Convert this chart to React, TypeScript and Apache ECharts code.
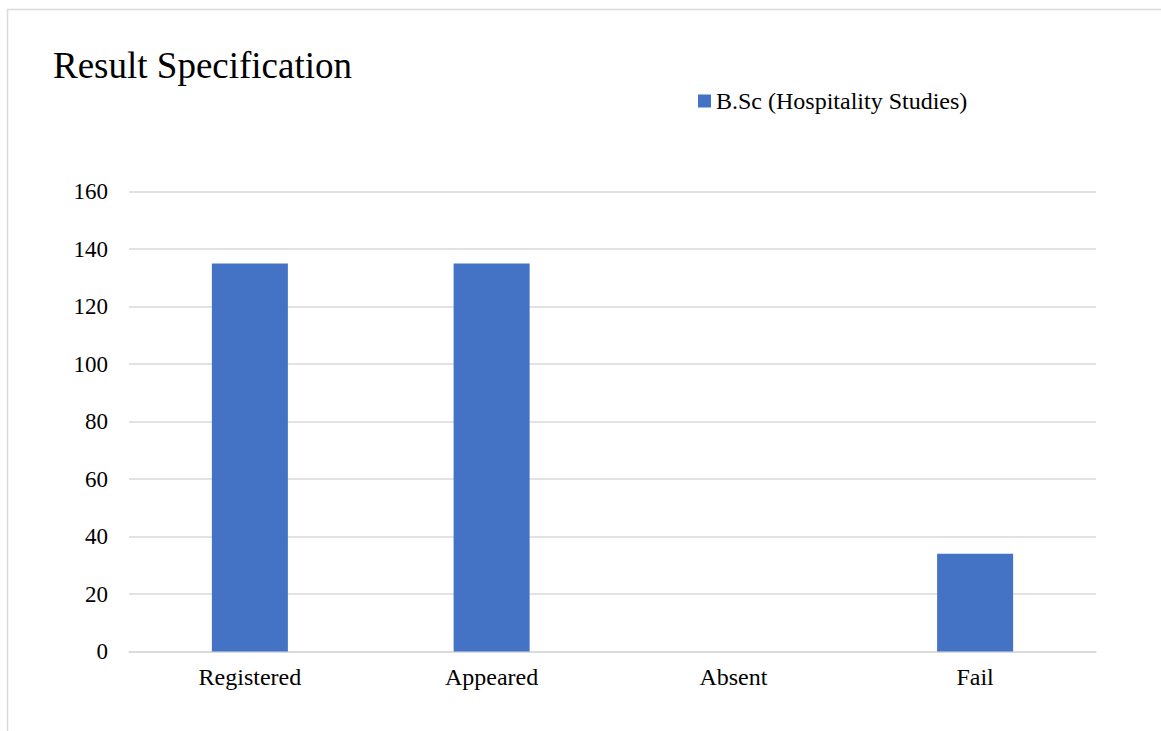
import React, { useEffect, useRef } from "react";
import * as echarts from "echarts";

const categories = ["Registered", "Appeared", "Absent", "Fail"];
const seriesName = "B.Sc (Hospitality Studies)";
const values = [135, 135, 0, 34];
const yTicks = { min: 0, max: 160, interval: 20 };

const FONT = "'Liberation Serif', 'Times New Roman', serif";

export default function App() {
  const ref = useRef<HTMLDivElement>(null);
  useEffect(() => {
    if (!ref.current) return;
    const chart = echarts.init(ref.current, undefined, { renderer: "svg" });
    chart.setOption({
      animation: false,
      backgroundColor: "#ffffff",
      title: {
        text: "Result Specification",
        left: 48,
        top: 42,
        textStyle: { fontFamily: FONT, fontSize: 37, fontWeight: "normal", color: "#000" },
      },
      legend: {
        left: 693,
        top: 84,
        itemWidth: 13,
        itemHeight: 13,
        icon: "rect",
        textStyle: { fontFamily: FONT, fontSize: 24, color: "#000" },
        data: [seriesName],
      },
      grid: {
        left: 129,
        right: 65,
        top: 191.5,
        bottom: 79.5,
        containLabel: false,
        outerBoundsMode: "none",
      },
      xAxis: {
        type: "category",
        data: categories,
        axisLine: { lineStyle: { color: "#d9d9d9", width: 1.5 } },
        axisTick: { show: false },
        axisLabel: { fontFamily: FONT, fontSize: 24, color: "#000", margin: 13 },
      },
      yAxis: {
        type: "value",
        min: yTicks.min,
        max: yTicks.max,
        interval: yTicks.interval,
        axisLine: { show: false },
        axisTick: { show: false },
        axisLabel: { fontFamily: FONT, fontSize: 23, color: "#000", margin: 21 },
        splitLine: { lineStyle: { color: "#d9d9d9", width: 1.5 } },
      },
      series: [
        {
          name: seriesName,
          type: "bar",
          data: values,
          barWidth: 76,
          itemStyle: { color: "#4472C4" },
        },
      ],
      graphic: [
        {
          type: "rect",
          shape: { x: 7.5, y: 9.5, width: 1300, height: 900 },
          style: { fill: "none", stroke: "#d9d9d9", lineWidth: 1.5 },
          silent: true,
        },
      ],
    });
    return () => chart.dispose();
  }, []);
  return (
    <div
      ref={ref}
      style={{ position: "absolute", left: 0, top: 0, width: 1161, height: 731 }}
    />
  );
}
